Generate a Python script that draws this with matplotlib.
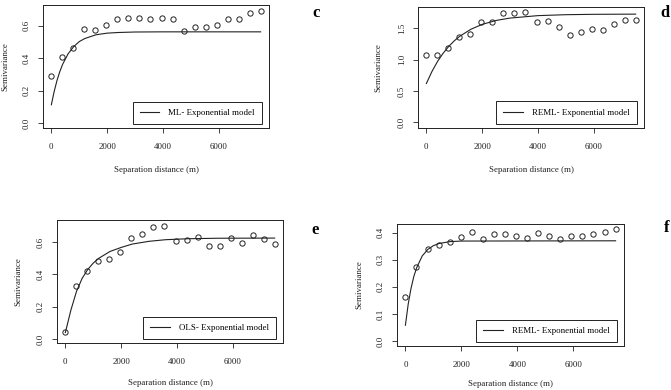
import matplotlib
matplotlib.use("Agg")
import matplotlib.pyplot as plt

plt.rcParams["font.family"] = ["Liberation Serif", "DejaVu Serif"]
plt.rcParams["font.size"] = 6.5

# lag distances (m) shared by all four empirical variograms
lags = [0, 395, 790, 1185, 1580, 1975, 2370, 2765, 3160, 3555,
        3950, 4345, 4740, 5135, 5530, 5925, 6320, 6715, 7110, 7505]

gamma_c = [0.29, 0.41, 0.465, 0.58, 0.573, 0.608, 0.639, 0.651, 0.651, 0.639,
           0.651, 0.639, 0.567, 0.59, 0.59, 0.608, 0.643, 0.639, 0.68, 0.694]
gamma_d = [1.077, 1.077, 1.18, 1.37, 1.41, 1.60, 1.60, 1.75, 1.74, 1.77,
           1.60, 1.62, 1.52, 1.39, 1.44, 1.49, 1.48, 1.57, 1.64, 1.63]
gamma_e = [0.041, 0.329, 0.424, 0.486, 0.494, 0.536, 0.623, 0.652, 0.691, 0.701,
           0.608, 0.612, 0.631, 0.577, 0.577, 0.625, 0.596, 0.643, 0.621, 0.590]
gamma_f = [0.163, 0.275, 0.341, 0.353, 0.364, 0.383, 0.402, 0.375, 0.394, 0.394,
           0.388, 0.381, 0.399, 0.386, 0.375, 0.386, 0.388, 0.394, 0.402, 0.415]

# fitted exponential model curves
model_x_c = [0, 100, 200, 300, 400, 600, 800, 1000, 1200, 1600, 2000, 2400, 3000, 4000, 7505]
model_y_c = [0.115, 0.196, 0.263, 0.317, 0.362, 0.428, 0.472, 0.503, 0.522, 0.545,
             0.555, 0.559, 0.562, 0.563, 0.563]
model_x_d = [0, 200, 400, 600, 800, 1000, 1200, 1600, 2000, 2500, 3000, 4000, 5000, 6000, 7505]
model_y_d = [0.62, 0.812, 0.972, 1.103, 1.212, 1.302, 1.376, 1.488, 1.565, 1.628,
             1.666, 1.705, 1.720, 1.726, 1.729]
model_x_e = [0, 200, 400, 600, 800, 1000, 1200, 1600, 2000, 2400, 3000, 3600, 4400, 5500, 7505]
model_y_e = [0.04, 0.18, 0.295, 0.375, 0.43, 0.47, 0.50, 0.542, 0.567, 0.588,
             0.605, 0.615, 0.621, 0.624, 0.625]
model_x_f = [0, 100, 200, 300, 400, 600, 800, 1000, 1200, 1600, 2000, 7505]
model_y_f = [0.058, 0.136, 0.194, 0.238, 0.270, 0.314, 0.338, 0.352, 0.360, 0.367, 0.369, 0.370]

legend_labels = ["ML- Exponential model", "REML- Exponential model",
                 "OLS- Exponential model", "REML- Exponential model"]
panel_letters = ["c", "d", "e", "f"]
x_ticks = [0, 2000, 4000, 6000]
y_ticks_c = [0.0, 0.2, 0.4, 0.6]
y_ticks_d = [0.0, 0.5, 1.0, 1.5]
y_ticks_e = [0.0, 0.2, 0.4, 0.6]
y_ticks_f = [0.0, 0.1, 0.2, 0.3, 0.4]

W, H = 671, 390
fig = plt.figure(figsize=(W / 100, H / 100), dpi=100)
ink = "#222222"
fs = 6.4


def px_axes(x0, y0, x1, y1):
    return fig.add_axes([x0 / W, 1 - y1 / H, (x1 - x0) / W, (y1 - y0) / H])


panels = [
    # box px, ylim, gamma, model, yticks, legend anchor, letter pos, ylabel x, xlabel y
    ((43, 5, 269, 128), (-0.028, 0.728), gamma_c, (model_x_c, model_y_c), y_ticks_c,
     (0.968, 0.032), (316, 13), 5, 170),
    ((418, 7, 644, 128), (-0.091, 1.843), gamma_d, (model_x_d, model_y_d), y_ticks_d,
     (0.968, 0.035), (665, 13), 378, 170),
    ((57, 220, 283, 343), (-0.025, 0.737), gamma_e, (model_x_e, model_y_e), y_ticks_e,
     (0.968, 0.030), (315, 230), 18, 383),
    ((397, 224, 624, 346), (-0.0186, 0.432), gamma_f, (model_x_f, model_y_f), y_ticks_f,
     (0.968, 0.032), (667, 228), 359, 384),
]

for i, (box, ylim, gam, model, yt, leg_anchor, letter_xy, ylab_x, xlab_y) in enumerate(panels):
    ax = px_axes(*box)
    ax.plot(lags, gam, linestyle="none", marker="o", markersize=3.8,
            markerfacecolor="none", markeredgecolor=ink, markeredgewidth=0.7)
    ax.plot(model[0], model[1], color=ink, linewidth=0.8,
            label=legend_labels[i])
    ax.set_xlim(-300, 7805)
    ax.set_ylim(*ylim)
    ax.set_xticks(x_ticks)
    ax.set_xticklabels([str(t) for t in x_ticks])
    ax.set_yticks(yt)
    ax.set_yticklabels([f"{t:.1f}" for t in yt], rotation=90, va="center")
    ax.tick_params(direction="out", length=3.6, width=0.6, colors=ink,
                   labelsize=fs)
    ax.tick_params(axis="x", pad=7)
    ax.tick_params(axis="y", pad=5)
    for s in ax.spines.values():
        s.set_color(ink)
        s.set_linewidth(0.7)
    leg = ax.legend(loc="lower right", bbox_to_anchor=leg_anchor,
                    borderaxespad=0, fancybox=False, framealpha=1,
                    edgecolor=ink, fontsize=fs, handlelength=2.2,
                    handletextpad=1.0, borderpad=0.8)
    leg.get_frame().set_linewidth(0.7)
    # axis titles placed in pixel positions
    x0, y0, x1, y1 = box
    fig.text((x0 + x1) / 2 / W, 1 - xlab_y / H, "Separation distance (m)",
             ha="center", va="center", fontsize=fs, color=ink)
    fig.text(ylab_x / W, 1 - (y0 + y1) / 2 / H, "Semivariance",
             ha="center", va="center", rotation=90, fontsize=fs, color=ink)
    fig.text(letter_xy[0] / W, 1 - letter_xy[1] / H, panel_letters[i],
             ha="center", va="center", fontsize=12, fontweight="bold")

fig.savefig("out.png", dpi=100)
